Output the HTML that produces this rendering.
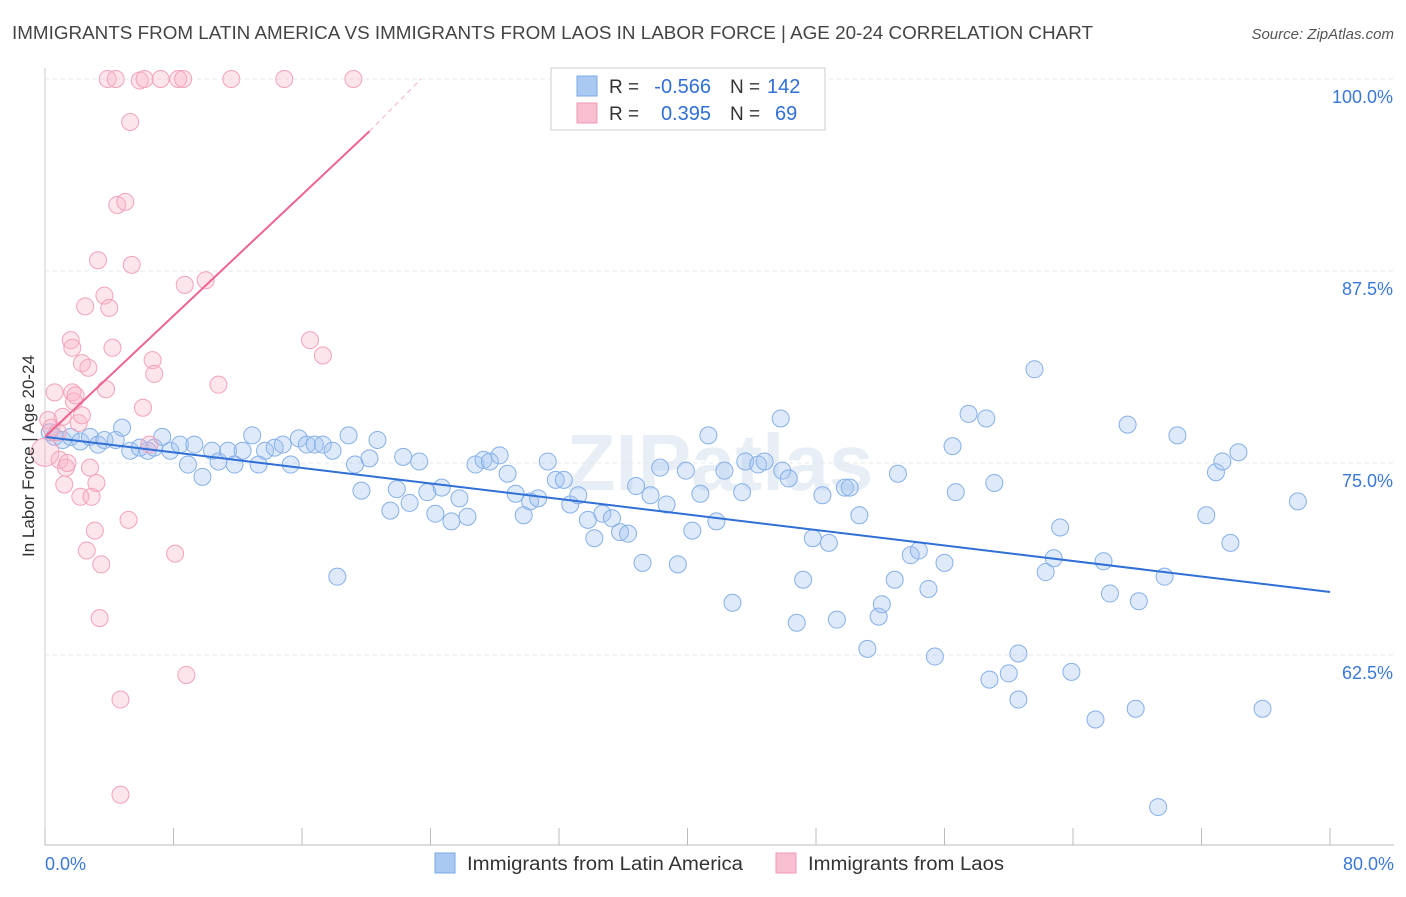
<!DOCTYPE html>
<html><head><meta charset="utf-8"><style>
body{margin:0;background:#fff;font-family:"Liberation Sans",sans-serif;}
svg text{font-family:"Liberation Sans",sans-serif;}
</style></head><body>
<svg id="chart" width="1406" height="892" xmlns="http://www.w3.org/2000/svg">
<text x="12" y="39" font-size="18" fill="#444" textLength="1081" lengthAdjust="spacingAndGlyphs">IMMIGRANTS FROM LATIN AMERICA VS IMMIGRANTS FROM LAOS IN LABOR FORCE | AGE 20-24 CORRELATION CHART</text>
<text x="1394" y="39" font-size="15" fill="#555" text-anchor="end" font-style="italic">Source: ZipAtlas.com</text>
<text x="720" y="490" font-size="80" fill="#e8eef6" text-anchor="middle" font-weight="bold">ZIPatlas</text>
<g id="grid"></g>
<g id="axes"></g>
<g id="pts"></g>
<g id="trends"></g>
<text transform="translate(34,456) rotate(-90)" font-size="17" fill="#333" text-anchor="middle">In Labor Force | Age 20-24</text>
<g>
<rect x="551" y="68" width="274" height="62" fill="#fff" stroke="#ccc"/>
<rect x="577" y="76" width="20" height="20" fill="#a9c8f2" stroke="#7aa8e6"/>
<rect x="577" y="103" width="20" height="20" fill="#f8bfd0" stroke="#f09ab5"/>
<text x="609" y="93" font-size="19" fill="#333">R =</text>
<text x="711" y="93" font-size="20" fill="#2f6fd6" text-anchor="end">-0.566</text>
<text x="730" y="93" font-size="19" fill="#333">N =</text>
<text x="767" y="93" font-size="20" fill="#2f6fd6">142</text>
<text x="609" y="120" font-size="19" fill="#333">R =</text>
<text x="711" y="120" font-size="20" fill="#2f6fd6" text-anchor="end">0.395</text>
<text x="730" y="120" font-size="19" fill="#333">N =</text>
<text x="775" y="120" font-size="20" fill="#2f6fd6">69</text>
</g>
<g>
<rect x="435" y="853" width="20" height="20" fill="#a9c8f2" stroke="#7aa8e6"/>
<text x="467" y="870" font-size="19" fill="#333" textLength="276" lengthAdjust="spacingAndGlyphs">Immigrants from Latin America</text>
<rect x="776" y="853" width="20" height="20" fill="#f8bfd0" stroke="#f09ab5"/>
<text x="808" y="870" font-size="19" fill="#333" textLength="196" lengthAdjust="spacingAndGlyphs">Immigrants from Laos</text>
</g>
</svg>
<script>
const xTicks=[0,8,16,24,32,40,48,56,64,72,80];
const yTicks=[62.5,75,87.5,100];
const yTickLabels=["62.5%","75.0%","87.5%","100.0%"];
const xEndLabels=["0.0%","80.0%"];
const blueX=[0.3,0.6,1.1,1.6,2.2,2.8,3.3,3.7,4.4,4.8,5.3,5.9,6.4,6.8,7.3,7.8,8.4,8.9,9.3,9.8,10.4,10.8,11.4,11.8,12.3,12.9,13.3,13.7,14.3,14.8,15.3,15.8,16.3,16.8,17.3,17.9,18.2,18.9,19.3,19.7,20.2,20.7,21.5,21.9,22.3,22.7,23.3,23.8,24.3,24.7,25.3,25.8,26.3,26.8,27.3,27.7,28.3,28.8,29.3,29.8,30.2,30.7,31.3,31.8,32.3,32.7,33.2,33.8,34.2,34.7,35.3,35.8,36.3,36.8,37.2,37.7,38.3,38.7,39.4,39.9,40.3,40.8,41.3,41.8,42.3,42.8,43.4,43.6,44.4,44.8,45.8,45.9,46.3,46.8,47.2,47.8,48.4,48.8,49.3,49.8,50.1,50.7,51.2,51.9,52.1,52.9,53.1,53.9,54.4,55.0,55.4,56.0,56.5,56.7,57.5,58.6,58.8,59.1,60.0,60.6,60.6,61.6,62.3,62.8,63.2,63.9,65.4,65.9,66.3,67.4,67.9,68.1,69.3,69.7,70.5,72.3,72.9,73.3,73.8,74.3,75.8,78.0];
const blueY=[77.0,76.7,76.5,76.7,76.4,76.7,76.2,76.5,76.5,77.3,75.8,76.0,75.8,76.0,76.7,75.8,76.2,74.9,76.2,74.1,75.8,75.1,75.8,74.9,75.8,76.8,74.9,75.8,76.0,76.2,74.9,76.6,76.2,76.2,76.2,75.8,67.6,76.8,74.9,73.2,75.3,76.5,71.9,73.3,75.4,72.4,75.1,73.1,71.7,73.4,71.2,72.7,71.5,74.9,75.2,75.1,75.5,74.3,73.0,71.6,72.5,72.7,75.1,73.9,73.9,72.3,72.9,71.3,70.1,71.7,71.4,70.5,70.4,73.5,68.5,72.9,74.7,72.3,68.4,74.5,70.6,73.0,76.8,71.2,74.5,65.9,73.1,75.1,74.9,75.1,77.9,74.5,74.0,64.6,67.4,70.1,72.9,69.8,64.8,73.4,73.4,71.6,62.9,65.0,65.8,67.4,74.3,69.0,69.3,66.8,62.4,68.5,76.1,73.1,78.2,77.9,60.9,73.7,61.3,59.6,62.6,81.1,67.9,68.8,70.8,61.4,58.3,68.6,66.5,77.5,59.0,66.0,52.6,67.6,76.8,71.6,74.4,75.1,69.8,75.7,59.0,72.5];
const pinkX=[0.0,0.2,0.4,0.6,0.8,0.9,1.1,1.2,1.3,1.4,1.6,1.7,1.7,1.8,1.9,2.1,2.2,2.3,2.3,2.5,2.6,2.7,2.8,2.9,3.1,3.2,3.3,3.4,3.5,3.7,3.8,3.9,4.0,4.2,4.4,4.5,4.7,4.7,5.0,5.2,5.3,5.4,5.9,6.1,6.2,6.5,6.7,6.8,7.2,8.1,8.3,8.6,8.7,8.8,10.0,10.8,11.6,14.9,16.5,17.3,19.2];
const pinkY=[75.7,77.8,77.3,79.6,77.0,75.2,78.0,73.6,74.7,75.0,83.0,82.5,79.6,79.0,79.4,77.6,72.8,78.1,81.5,85.2,69.3,81.2,74.7,72.8,70.6,73.7,88.2,64.9,68.4,85.9,79.8,100,85.1,82.5,100,91.8,59.6,53.4,92.0,71.3,97.2,87.9,99.9,78.6,100,76.2,81.7,80.8,100,69.1,100,100,86.6,61.2,86.9,80.1,100,100,83.0,82.0,100];
const blueTrendX=[0,80], blueTrendY=[76.7,66.6];
const pinkTrendX=[0,20.2], pinkTrendY=[76.7,96.6];
const pinkDashX=[20.2,23.4], pinkDashY=[96.6,100];

const NS="http://www.w3.org/2000/svg";
const sx=v=>45+v*(1285/80);
const sy=v=>79+(100-v)*(192/12.5);
function mk(tag,attrs,parent){const e=document.createElementNS(NS,tag);for(const k in attrs)e.setAttribute(k,attrs[k]);parent.appendChild(e);return e;}
const grid=document.getElementById('grid'),axes=document.getElementById('axes'),pts=document.getElementById('pts'),tr=document.getElementById('trends');
yTicks.forEach((t,i)=>{
  const l=mk('line',{x1:45,x2:1394,y1:sy(t),y2:sy(t),stroke:'#e3e7ee','stroke-dasharray':'4,4'},grid);
  
  
  const tx=mk('text',{x:1393,y:sy(t)+24,'font-size':18,fill:'#3a78d8','text-anchor':'end'},axes);
  tx.textContent=yTickLabels[i];
  
  
});
const ax=mk('line',{x1:45,x2:1394,y1:845,y2:845,stroke:'#bbb'},axes);


const ay=mk('line',{x1:45,x2:45,y1:68,y2:845,stroke:'#ccc'},axes);


xTicks.forEach(t=>{
  const l=mk('line',{x1:sx(t),x2:sx(t),y1:828,y2:845,stroke:'#bbb'},axes);
  
  
});
[[0,'start',45],[80,'end',1394]].forEach((d,i)=>{
  const tx=mk('text',{x:d[2],y:870,'font-size':18,fill:'#3a78d8','text-anchor':d[1]},axes);
  tx.textContent=xEndLabels[i];
  
  
});
blueX.forEach((x,i)=>{
  const c=mk('circle',{cx:sx(x),cy:sy(blueY[i]),r:8.5,fill:'rgba(160,196,240,0.35)',stroke:'#86b0e8','stroke-width':1},pts);
  
  
});
pinkX.forEach((x,i)=>{
  const c=mk('circle',{cx:sx(x),cy:sy(pinkY[i]),r:i===0?14:8.5,fill:'rgba(248,180,200,0.35)',stroke:'#f2a2ba','stroke-width':1},pts);
  
  
});
const bl=mk('line',{x1:sx(blueTrendX[0]),y1:sy(blueTrendY[0]),x2:sx(blueTrendX[1]),y2:sy(blueTrendY[1]),stroke:'#2f6fd6','stroke-width':2},tr);


const pl=mk('line',{x1:sx(pinkTrendX[0]),y1:sy(pinkTrendY[0]),x2:sx(pinkTrendX[1]),y2:sy(pinkTrendY[1]),stroke:'#ec6590','stroke-width':2},tr);


const pd=mk('line',{x1:sx(pinkDashX[0]),y1:sy(pinkDashY[0]),x2:sx(pinkDashX[1]),y2:sy(pinkDashY[1]),stroke:'#f2b0c4','stroke-width':1,'stroke-dasharray':'5,4'},tr);


</script>
</body></html>
